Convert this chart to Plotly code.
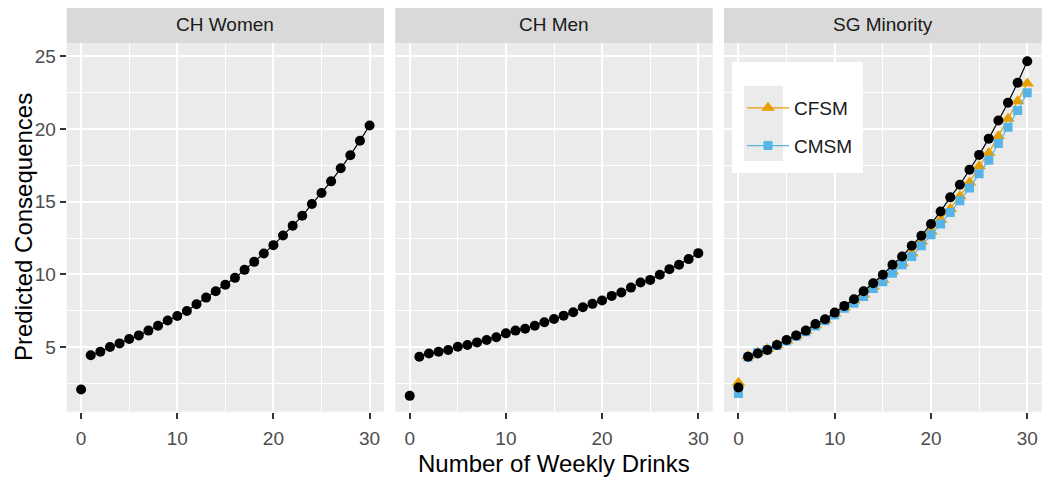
import plotly.graph_objects as go

drinks = list(range(31))

ch_women = [2.08, 4.43, 4.68, 5.00, 5.25, 5.55, 5.80, 6.13, 6.47, 6.82, 7.14,
            7.48, 7.94, 8.40, 8.84, 9.28, 9.76, 10.31, 10.86, 11.44, 12.01,
            12.68, 13.34, 14.03, 14.84, 15.60, 16.40, 17.30, 18.20, 19.20, 20.24]

ch_men = [1.64, 4.33, 4.56, 4.68, 4.79, 5.02, 5.14, 5.32, 5.48, 5.67, 5.94,
          6.13, 6.26, 6.47, 6.70, 6.93, 7.16, 7.39, 7.74, 7.97, 8.20,
          8.52, 8.75, 9.09, 9.44, 9.62, 9.97, 10.36, 10.66, 11.05, 11.46]

sg_minority = [2.22, 4.33, 4.56, 4.79, 5.14, 5.48, 5.80, 6.13, 6.59, 6.91, 7.37,
               7.83, 8.29, 8.84, 9.39, 9.97, 10.66, 11.23, 11.97, 12.66, 13.46,
               14.33, 15.30, 16.17, 17.20, 18.22, 19.34, 20.59, 21.81, 23.19, 24.66]

cfsm = [2.54, 4.38, 4.62, 4.86, 5.15, 5.45, 5.78, 6.10, 6.50, 6.85, 7.28,
        7.72, 8.20, 8.61, 9.16, 9.62, 10.20, 10.77, 11.46, 12.26, 12.95,
        13.76, 14.50, 15.37, 16.33, 17.44, 18.36, 19.50, 20.70, 21.92, 23.14]

cmsm = [1.80, 4.32, 4.60, 4.82, 5.10, 5.42, 5.74, 6.05, 6.45, 6.80, 7.20,
        7.67, 8.01, 8.47, 9.02, 9.50, 10.08, 10.66, 11.23, 11.97, 12.72,
        13.46, 14.26, 15.07, 15.94, 16.93, 17.85, 19.00, 20.12, 21.28, 22.50]

panel_titles = ["CH Women", "CH Men", "SG Minority"]
x_ticks = [0, 10, 20, 30]
y_ticks = [5, 10, 15, 20, 25]

# page body has an 8px margin; lay out in window pixels and convert
OFF = 8
W, H = 1042, 471
def px(x):
    return (x - OFF) / W
def py(y):
    return 1 - (y - OFF) / H

x_domains = [[px(66.7), px(384.0)], [px(395.3), px(712.7)], [px(724.0), px(1041.7)]]
y_domain = [py(411.7), py(43.3)]
strip_top = py(6)

BLACK = "#000000"
ORANGE = "#E69F00"
BLUE = "#56B4E9"

fig = go.Figure()

def add_series(ys, ax, color, symbol, size, name=None, rank=None):
    ya = ax.replace("x", "y")
    # line starts at 1 drink; the 0-drink point stands alone
    fig.add_trace(go.Scatter(x=drinks[1:], y=ys[1:], xaxis=ax, yaxis=ya, mode="lines",
                             showlegend=False, hoverinfo="skip",
                             line=dict(color=color, width=1.2)))
    fig.add_trace(go.Scatter(x=drinks, y=ys, xaxis=ax, yaxis=ya, mode="markers",
                             name=name or "", showlegend=False,
                             marker=dict(symbol=symbol, size=size, color=color)))
    if name:
        # legend entry (line + marker key), no data of its own
        fig.add_trace(go.Scatter(x=[None], y=[None], xaxis=ax, yaxis=ya,
                                 mode="lines+markers", name=name, legendgroup=name,
                                 legendrank=rank, showlegend=True,
                                 line=dict(color=color, width=1.2),
                                 marker=dict(symbol=symbol, size=size, color=color)))

add_series(cfsm, "x3", ORANGE, "triangle-up", 12, "CFSM", 1)
add_series(cmsm, "x3", BLUE, "square", 9, "CMSM", 2)
for i, ys in enumerate([ch_women, ch_men, sg_minority]):
    ax = "x" if i == 0 else "x" + str(i + 1)
    add_series(ys, ax, BLACK, "circle", 10)

axis_common = dict(
    showline=False, zeroline=False,
    gridcolor="white", gridwidth=2,
    ticks="outside", ticklen=6, tickwidth=1.6, tickcolor="#333333",
    tickfont=dict(family="Liberation Sans, Arial", size=19, color="#4D4D4D"),
)

layout = dict(
    width=W, height=H,
    margin=dict(l=0, r=0, t=0, b=0),
    paper_bgcolor="white", plot_bgcolor="#EBEBEB",
    font=dict(family="Liberation Sans, Arial"),
    showlegend=True,
    legend=dict(
        x=px(742), y=py(89), xanchor="left", yanchor="top",
        bgcolor="rgba(0,0,0,0)", borderwidth=0,
        font=dict(family="Liberation Sans, Arial", size=19, color="#1A1A1A"),
        traceorder="grouped", tracegroupgap=10, itemwidth=42,
    ),
)

for i in range(3):
    sfx = "" if i == 0 else str(i + 1)
    layout["xaxis" + sfx] = dict(
        axis_common, domain=x_domains[i], range=[-1.5, 31.5],
        tickvals=x_ticks, anchor="y" + sfx, ticklabelstandoff=3,
        minor=dict(tick0=5, dtick=10, showgrid=True, gridcolor="white", gridwidth=1, ticks=""),
    )
    layout["yaxis" + sfx] = dict(
        axis_common, domain=y_domain, range=[0.55, 25.9],
        tickvals=y_ticks, anchor="x" + sfx,
        showticklabels=(i == 0),
        ticks="outside" if i == 0 else "",
        minor=dict(tick0=2.5, dtick=5, showgrid=True, gridcolor="white", gridwidth=1, ticks=""),
    )
    if i > 0:
        layout["yaxis" + sfx]["matches"] = "y"

fig.update_layout(**layout)

shapes = []
annotations = []
for i, t in enumerate(panel_titles):
    shapes.append(dict(type="rect", xref="paper", yref="paper",
                       x0=x_domains[i][0], x1=x_domains[i][1], y0=y_domain[1], y1=strip_top,
                       fillcolor="#D9D9D9", line=dict(width=0), layer="below"))
    annotations.append(dict(text=t, xref="paper", yref="paper",
                            x=(x_domains[i][0] + x_domains[i][1]) / 2,
                            y=(y_domain[1] + strip_top) / 2,
                            showarrow=False, xanchor="center", yanchor="middle",
                            font=dict(size=19, color="#1A1A1A")))

# legend box background and key background
shapes.append(dict(type="rect", xref="paper", yref="paper",
                   x0=px(732), x1=px(863), y0=py(173), y1=py(62),
                   fillcolor="white", line=dict(width=0), layer="above"))
shapes.append(dict(type="rect", xref="paper", yref="paper",
                   x0=px(744), x1=px(783), y0=py(161), y1=py(86),
                   fillcolor="#EBEBEB", line=dict(width=0), layer="above"))

annotations.append(dict(text="Number of Weekly Drinks", xref="paper", yref="paper",
                        x=px(554), y=py(463), showarrow=False,
                        xanchor="center", yanchor="middle",
                        font=dict(size=24, color="#000000")))
annotations.append(dict(text="Predicted Consequences", xref="paper", yref="paper",
                        x=px(8), y=py(227.5), showarrow=False, textangle=-90,
                        xanchor="left", yanchor="middle",
                        font=dict(size=24, color="#000000")))

fig.update_layout(shapes=shapes, annotations=annotations)

fig.write_html("out.html")
